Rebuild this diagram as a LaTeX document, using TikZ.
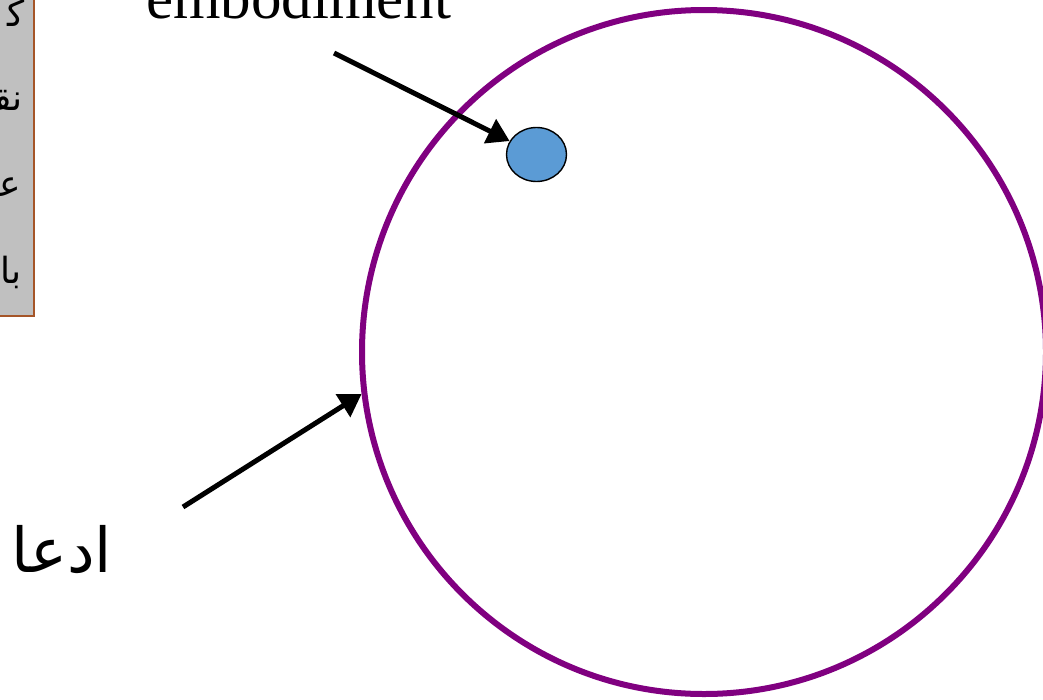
\documentclass[tikz,border=0pt]{standalone}
\usepackage{fontspec}
\usetikzlibrary{shapes.geometric,arrows.meta}
\setmainfont{Liberation Serif}
\newfontfamily\arabicfont[Script=Arabic]{DejaVu Sans}
\TeXXeTstate=1
\definecolor{ringpurple}{RGB}{128,0,128}
\definecolor{dotblue}{RGB}{91,155,213}
\definecolor{boxgrey}{RGB}{192,192,192}
\definecolor{boxbrown}{RGB}{165,85,40}
\tikzset{
  ring/.style={circle, draw=ringpurple, line width=6pt, minimum size=684pt, inner sep=0pt},
  blob/.style={ellipse, draw=black, line width=1.4pt, fill=dotblue, minimum width=60pt, minimum height=54pt, inner sep=0pt},
  pointer/.style={line width=5pt, -{Triangle[length=22pt,width=26pt]}},
  greybox/.style={rectangle, fill=boxgrey, draw=boxbrown, line width=2pt, inner sep=0pt},
  boxtext/.style={font=\arabicfont\fontsize{36}{36}\selectfont, anchor=base east, inner sep=0pt},
}
\begin{document}
\begin{tikzpicture}[x=1pt,y=-1pt]
\useasboundingbox (0,0) rectangle (1043,699);
\clip (0,0) rectangle (1043,699);
% grey box (cut off at the left edge)
\node[greybox, minimum width=60pt, minimum height=340pt, anchor=south east] (box) at (35,317) {};
\node[boxtext] (t1) at (25,26) {\beginR ک^^^^200d\endR};
\node[boxtext] (t2) at (23,110) {\beginR نق^^^^200d\endR};
\node[boxtext] (t3) at (21,196) {\beginR ع^^^^200d\endR};
\node[boxtext] (t4) at (22,283) {\beginR با\endR};
% big ring
\node[ring] (big) at (704,352) {};
% small ellipse
\node[blob] (dot) at (536.5,154.5) {};
% labels
\node[anchor=base west, inner sep=0pt, font=\fontsize{61}{61}\selectfont] (emb) at (146,18) {embodiment};
\node[anchor=base west, inner sep=0pt, font=\arabicfont\fontsize{62}{62}\selectfont] (claim) at (11,572) {\beginR ادعا\endR};
% arrows
\coordinate (s1) at (334,53);
\coordinate (s2) at (183,507);
\draw[pointer] (s1) -- (dot);
\draw[pointer] (s2) -- (big.187.4);
\end{tikzpicture}
\end{document}
